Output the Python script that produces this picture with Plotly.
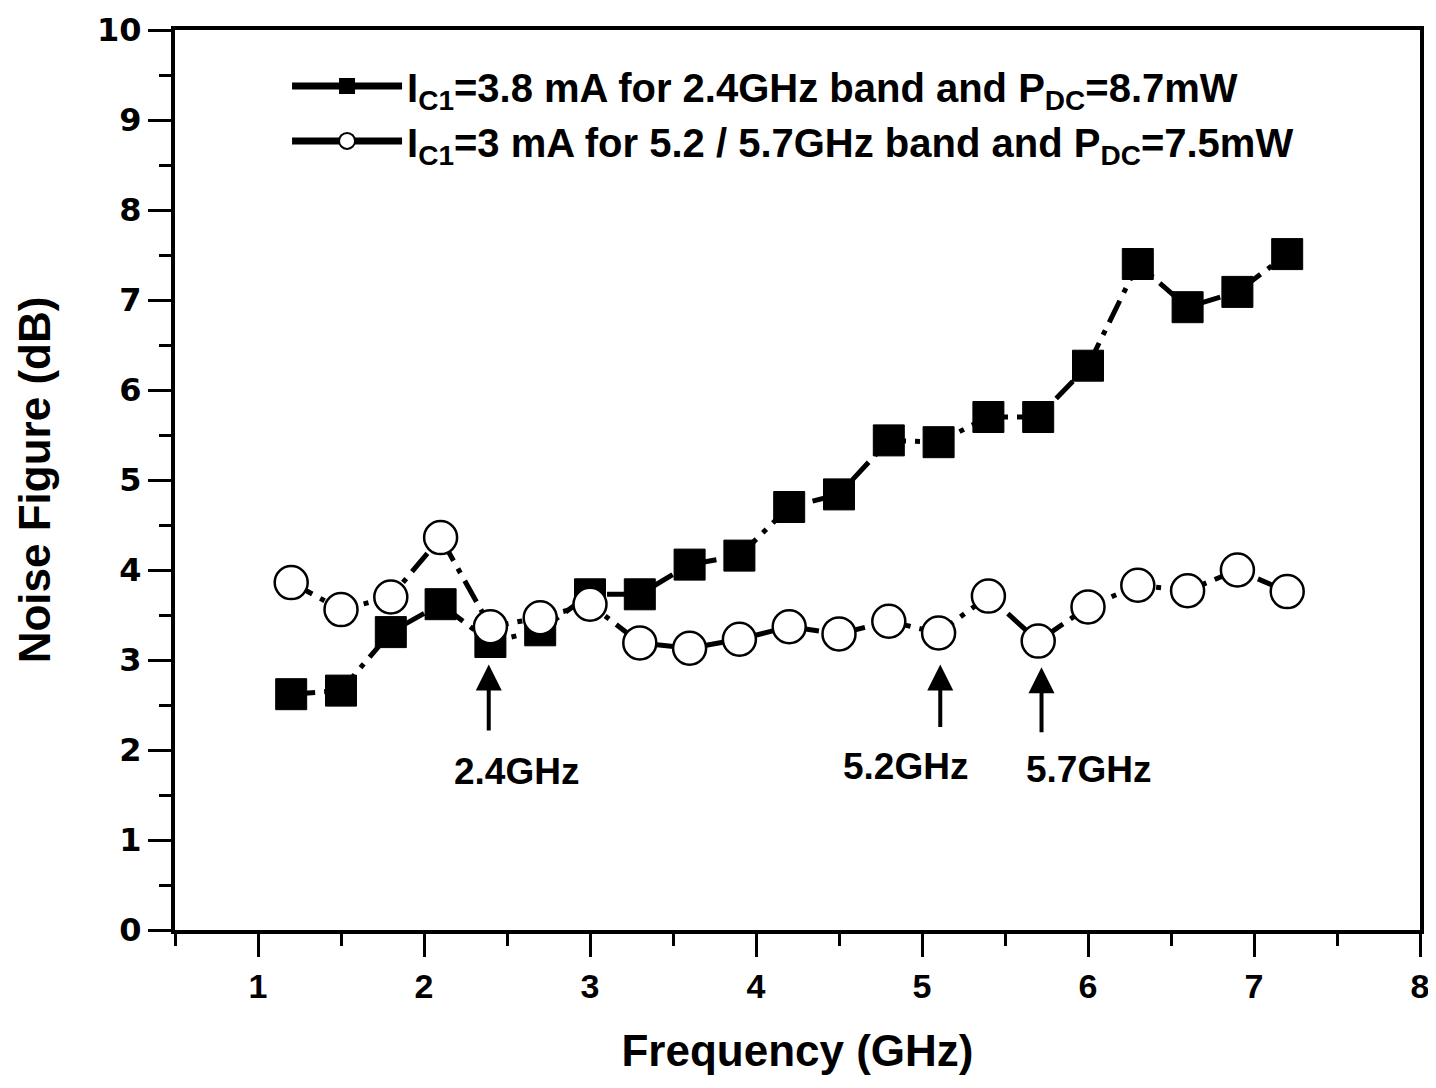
import plotly.graph_objects as go

freq = [1.2, 1.5, 1.8, 2.1, 2.4, 2.7, 3.0, 3.3, 3.6, 3.9, 4.2, 4.5, 4.8, 5.1, 5.4, 5.7, 6.0, 6.3, 6.6, 6.9, 7.2]
nf_24 = [2.62, 2.66, 3.31, 3.62, 3.20, 3.33, 3.73, 3.73, 4.06, 4.16, 4.70, 4.84, 5.44, 5.42, 5.70, 5.70, 6.27, 7.40, 6.92, 7.09, 7.51]
nf_52 = [3.86, 3.56, 3.70, 4.36, 3.37, 3.47, 3.62, 3.19, 3.13, 3.23, 3.37, 3.29, 3.43, 3.30, 3.71, 3.21, 3.59, 3.83, 3.77, 4.00, 3.76]

name_24 = "<b>I<sub>C1</sub>=3.8 mA for 2.4GHz band and P<sub>DC</sub>=8.7mW</b>"
name_52 = "<b>I<sub>C1</sub>=3 mA for 5.2 / 5.7GHz band and P<sub>DC</sub>=7.5mW</b>"

arrow_x = [2.39, 5.11, 5.72]
arrow_tip = [2.95, 2.95, 2.92]
arrow_tail = [2.20, 2.24, 2.18]
label_text = ["2.4GHz", "5.2GHz", "5.7GHz"]
label_x = [2.56, 4.90, 6.00]
label_y = [1.76, 1.82, 1.78]

FONT = "Liberation Sans, Arial"
WIDEFONT = "DejaVu Sans"
DASH = "24px,9px,5px,9px"

fig = go.Figure()
fig.add_trace(go.Scatter(
    x=freq, y=nf_24, name=name_24, mode="lines+markers", showlegend=False,
    line=dict(color="black", width=5, dash=DASH),
    marker=dict(symbol="square", size=31, color="black", line=dict(color="black", width=1)),
))
fig.add_trace(go.Scatter(
    x=freq, y=nf_52, name=name_52, mode="lines+markers", showlegend=False,
    line=dict(color="black", width=5, dash=DASH),
    marker=dict(symbol="circle", size=33, color="white", line=dict(color="black", width=2.5)),
))
fig.add_trace(go.Scatter(
    x=[None], y=[None], name=name_24, mode="lines+markers",
    line=dict(color="black", width=7),
    marker=dict(symbol="square", size=24, color="black"),
))
fig.add_trace(go.Scatter(
    x=[None], y=[None], name=name_52, mode="lines+markers",
    line=dict(color="black", width=7),
    marker=dict(symbol="circle", size=24, color="white", line=dict(color="black", width=2)),
))

for xa, yt, yb in zip(arrow_x, arrow_tip, arrow_tail):
    fig.add_annotation(x=xa, y=yt, ax=xa, ay=yb, xref="x", yref="y", axref="x", ayref="y",
                       showarrow=True, arrowhead=2, arrowsize=1.3, arrowwidth=4, arrowcolor="black", text="")
for t, xl, yl in zip(label_text, label_x, label_y):
    fig.add_annotation(x=xl, y=yl, xref="x", yref="y", text="<b>" + t + "</b>", showarrow=False,
                       font=dict(family=FONT, size=37, color="black"))

fig.update_layout(
    width=1428, height=1080,
    margin=dict(l=167, r=16, t=22, b=158),
    plot_bgcolor="white", paper_bgcolor="white",
    showlegend=True,
    legend=dict(x=0.09, y=0.974, xanchor="left", yanchor="top", bgcolor="rgba(0,0,0,0)",
                font=dict(family=FONT, size=40, color="black"), itemwidth=110, tracegroupgap=0),
    font=dict(family=FONT, color="black"),
)
fig.update_xaxes(
    range=[0.5, 8], tickvals=[1, 2, 3, 4, 5, 6, 7, 8], ticktext=["<b>%d</b>" % v for v in range(1, 9)],
    ticks="outside", ticklen=23, tickwidth=3, tickcolor="black",
    minor=dict(dtick=0.5, tick0=0.5, ticks="outside", ticklen=12, tickwidth=3, tickcolor="black"),
    showline=True, linewidth=4, linecolor="black", mirror=True, showgrid=False, zeroline=False,
    tickfont=dict(family=FONT, size=34, color="black"), automargin=False,
    title=dict(text="<b>Frequency (GHz)</b>", font=dict(family=FONT, size=44, color="black"), standoff=32),
)
fig.update_yaxes(
    range=[0, 10], tickvals=list(range(0, 11)), ticktext=["<b>%d</b>" % v for v in range(0, 11)],
    ticks="outside", ticklen=23, tickwidth=3, tickcolor="black",
    minor=dict(dtick=0.5, tick0=0, ticks="outside", ticklen=12, tickwidth=3, tickcolor="black"),
    showline=True, linewidth=4, linecolor="black", mirror=True, showgrid=False, zeroline=False,
    tickfont=dict(family=WIDEFONT, size=32, color="black"), automargin=False,
    title=dict(text="<b>Noise Figure (dB)</b>", font=dict(family=FONT, size=44, color="black"), standoff=34),
)

fig.write_html("out.html")
